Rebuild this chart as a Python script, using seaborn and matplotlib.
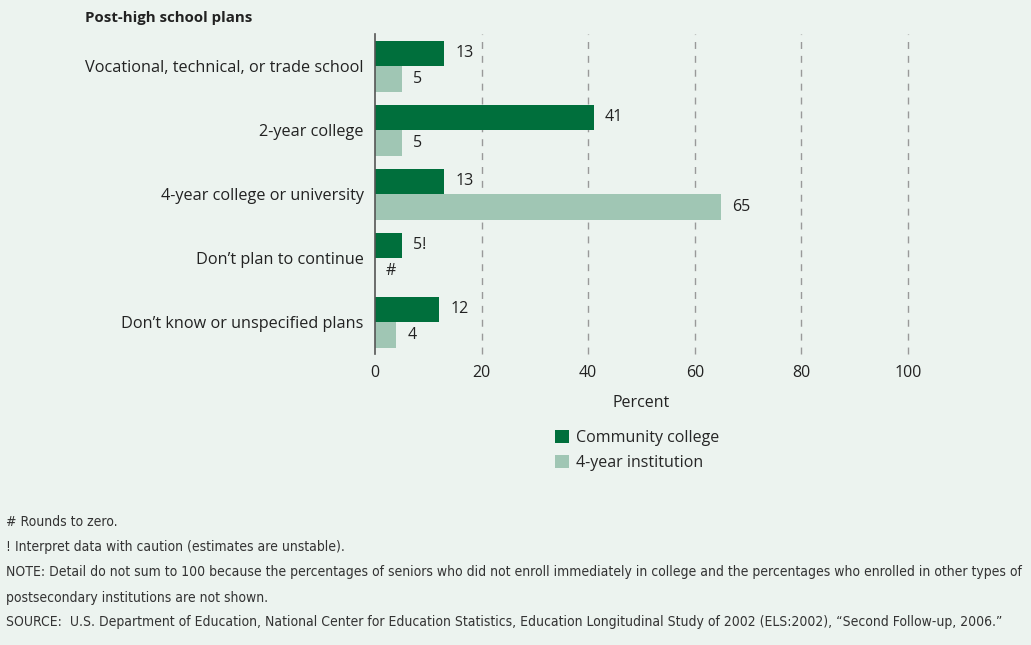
import matplotlib
matplotlib.use("Agg")
import matplotlib.pyplot as plt
from matplotlib import font_manager
import seaborn as sns
import pandas as pd
from matplotlib.patches import Patch

categories = ["Vocational, technical, or trade school", "2-year college",
              "4-year college or university", "Don’t plan to continue",
              "Don’t know or unspecified plans"]
community = [13, 41, 13, 5, 12]
fouryear = [5, 5, 65, 0, 4]
community_labels = ["13", "41", "13", "5!", "12"]
fouryear_labels = ["5", "5", "65", "#", "4"]
series = ["Community college", "4-year institution"]
xticks = [0, 20, 40, 60, 80, 100]

bg = "#ECF3EF"
dark = "#006F3C"
light = "#A0C6B4"

sns.set_theme(style="white")
plt.rcParams['font.family'] = ['Open Sans', 'DejaVu Sans']

df = pd.DataFrame({
    "plan": categories * 2,
    "value": community + fouryear,
    "series": [series[0]] * 5 + [series[1]] * 5,
})

fig = plt.figure(figsize=(10.31, 6.45), dpi=100, facecolor=bg)
ax = fig.add_axes([0.3637, 0.451, 0.5170, 0.496])
ax.set_facecolor(bg)

sns.barplot(data=df, y="plan", x="value", hue="series", orient="h",
            palette=[dark, light], width=0.8, ax=ax, legend=False,
            saturation=1, order=categories, hue_order=series, linewidth=0)

ax.set_xlim(0, 100)
ax.set_ylim(4.5, -0.5)
ax.set_xticks(xticks)
ax.set_xticklabels([str(t) for t in xticks], fontsize=11.5, color="#222222")
ax.tick_params(axis="x", length=0, pad=8)
ax.tick_params(axis="y", length=0, pad=8, labelsize=11.7, labelcolor="#222222")
ax.set_ylabel("")
ax.set_xlabel("Percent", fontsize=11.5, color="#222222", labelpad=10)
for t in xticks[1:]:
    ax.axvline(t, color="#999999", lw=1, ls=(0, (5, 5)), zorder=0, clip_on=False)
for s in ["top", "right", "bottom"]:
    ax.spines[s].set_visible(False)
ax.spines["left"].set_color("#555555")
ax.spines["left"].set_linewidth(1.2)

for cont, labels in zip(ax.containers, [community_labels, fouryear_labels]):
    ax.bar_label(cont, labels=labels, padding=8, fontsize=11.5, color="#222222")

fig.text(0.082, 0.972, "Post-high school plans", fontsize=10.8, fontweight="bold",
         color="#222222", va="center")

handles = [Patch(facecolor=dark, edgecolor="none"), Patch(facecolor=light, edgecolor="none")]
fig.legend(handles, series, loc="upper left", bbox_to_anchor=(0.532, 0.343),
           frameon=False, fontsize=11.5, handlelength=0.9, handleheight=0.9,
           handletextpad=0.4, labelspacing=0.55, borderaxespad=0)

# pick a narrow family for the notes if available
names = {f.name for f in font_manager.fontManager.ttflist}
condensed = [f for f in font_manager.fontManager.ttflist
             if f.name == "DejaVu Sans" and "ondensed" in str(f.stretch) + f.fname]
if "Liberation Sans Narrow" in names:
    note_kw = dict(family=["Liberation Sans Narrow", "DejaVu Sans"])
elif condensed:
    note_kw = dict(family=["DejaVu Sans"], fontstretch="condensed")
else:
    note_kw = dict(family=["Roboto", "DejaVu Sans"])

notes = [
    "# Rounds to zero.",
    "! Interpret data with caution (estimates are unstable).",
    "NOTE: Detail do not sum to 100 because the percentages of seniors who did not enroll immediately in college and the percentages who enrolled in other types of",
    "postsecondary institutions are not shown.",
    "SOURCE:  U.S. Department of Education, National Center for Education Statistics, Education Longitudinal Study of 2002 (ELS:2002), “Second Follow-up, 2006.”",
]
ys = [522, 547, 572, 598, 622]

# fit the longest line to the width seen in the reference
renderer = fig.canvas.get_renderer()
probe = fig.text(0, 0, notes[2], fontsize=10, **note_kw)
w = probe.get_window_extent(renderer).width
probe.remove()
note_size = min(10.5, 10 * 1020 / w)

for txt, y in zip(notes, ys):
    fig.text(0.006, 1 - y / 645, txt, color="#333333", va="center",
             fontsize=note_size, **note_kw)

fig.savefig("out.png", dpi=100, facecolor=bg)
